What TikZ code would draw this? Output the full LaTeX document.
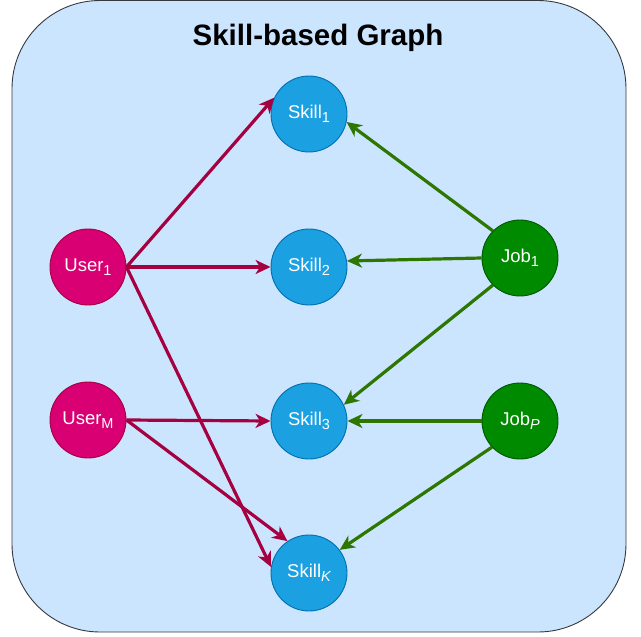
\documentclass[tikz,border=0pt]{standalone}
\usepackage{fontspec}
\setmainfont{Liberation Sans}
\usetikzlibrary{arrows.meta}
\definecolor{bgfill}{HTML}{CCE5FF}
\definecolor{bgline}{HTML}{36393D}
\definecolor{userfill}{HTML}{D80073}
\definecolor{userline}{HTML}{A50040}
\definecolor{skillfill}{HTML}{1BA1E2}
\definecolor{skillline}{HTML}{006EAF}
\definecolor{jobfill}{HTML}{008A00}
\definecolor{jobline}{HTML}{005700}
\definecolor{greenedge}{HTML}{2D7600}
\newcommand{\mysub}[1]{\raisebox{-0.24em}{\fontsize{14.5}{14.5}\selectfont #1}}
\begin{document}
\begin{tikzpicture}[x=1pt,y=-1pt,
  circ/.style={circle, minimum size=76pt, inner sep=0pt, line width=0.9pt, text=white, font=\fontsize{18.5}{18.5}\selectfont},
  user/.style={circ, fill=userfill, draw=userline},
  skill/.style={circ, fill=skillfill, draw=skillline},
  job/.style={circ, fill=jobfill, draw=jobline},
  uedge/.style={draw=userline, line width=3.2pt, -{Stealth[length=15pt,width=14pt,inset=4.5pt]}},
  jedge/.style={draw=greenedge, line width=3.2pt, -{Stealth[length=15pt,width=14pt,inset=4.5pt]}},
  title/.style={font=\bfseries\fontsize{29.5}{29.5}\selectfont, text=black}
]
\useasboundingbox (0,0) rectangle (641,637);
\draw[fill=bgfill, draw=bgline, line width=0.9pt, rounded corners=88pt] (12,0.5) rectangle (626,632);
\node[title] (t) at (318,38) {Skill-based Graph};

\node[skill] (s1) at (309,114) {Skill\mysub{1}};
\node[skill] (s2) at (309,267) {Skill\mysub{2}};
\node[skill] (s3) at (309,421) {Skill\mysub{3}};
\node[skill] (sK) at (309,573) {Skill\mysub{\itshape K}};
\node[user] (u1) at (88,267) {User\mysub{1}};
\node[user] (uM) at (88,420) {User\mysub{M}};
\node[job] (j1) at (520,258) {Job\mysub{1}};
\node[job] (jP) at (520,421) {Job\mysub{\itshape P}};

\draw[uedge] (u1.east) -- (s1.155);
\draw[uedge] (u1.east) -- (s2.west);
\draw[uedge] (u1.east) -- (sK.171);
\draw[uedge] (uM.east) -- (s3.west);
\draw[uedge] (uM.east) -- (sK.124);

\draw[jedge] (j1.135) -- (s1.-12);
\draw[jedge] (j1.west) -- (s2.9);
\draw[jedge] (j1.225) -- (s3.25);
\draw[jedge] (jP.west) -- (s3.east);
\draw[jedge] (jP.223) -- (sK.37);
\end{tikzpicture}
\end{document}
